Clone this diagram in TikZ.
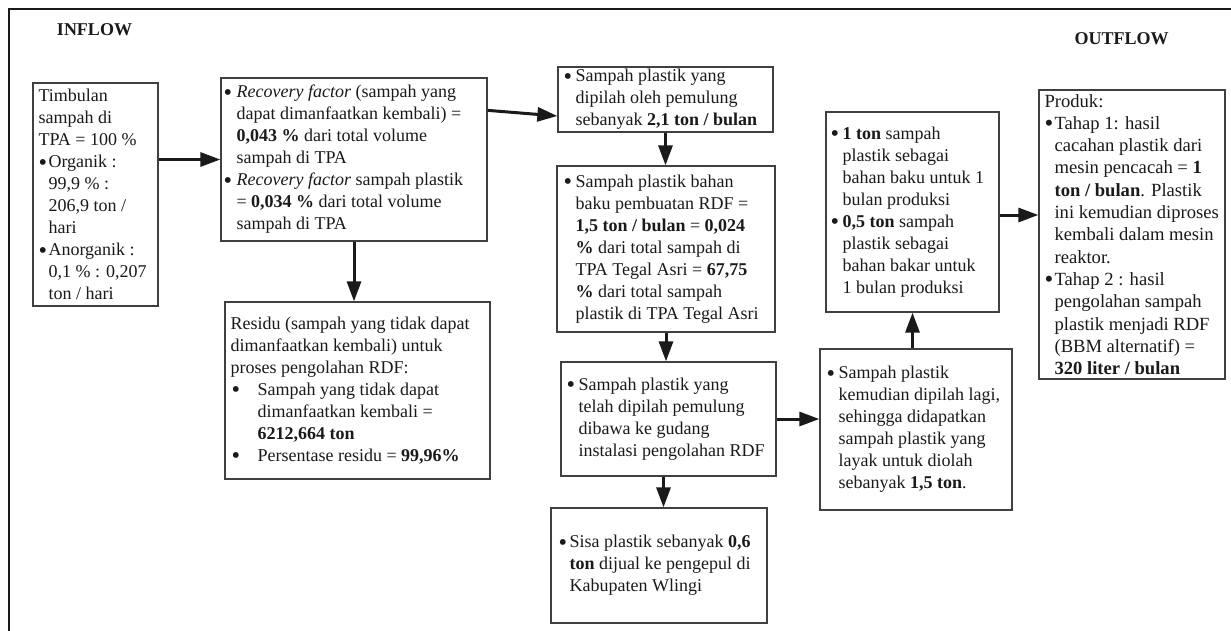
\documentclass[tikz,border=0pt]{standalone}
\usepackage{fontspec}
\setmainfont{Liberation Serif}
\usetikzlibrary{arrows.meta}
\definecolor{boxc}{HTML}{404040}
\definecolor{txt}{HTML}{1A1A1A}
\newcommand\bigdot{\raisebox{-2.4pt}{\scalebox{1.35}{\textbullet}}}
\newcommand\mybul[1][12pt]{\makebox[#1][l]{\bigdot}}
\newcommand\myind[1][12pt]{\hspace*{#1}}
\begin{document}
\begin{tikzpicture}[x=1pt,y=-1pt,
  box/.style={draw=boxc,line width=1.3pt,inner sep=0pt},
  tx/.style={inner sep=0pt,align=left,anchor=west,
              font=\fontsize{18}{22}\selectfont,text=txt},
  arr/.style={line width=3pt,draw=txt,-{Triangle[length=20pt,width=14pt]}},
  hdr/.style={font=\fontsize{18}{22}\selectfont\bfseries,text=txt,inner sep=0pt}]
\useasboundingbox (0,0) rectangle (1231,630);
\fill[white] (0,0) rectangle (1231,630);
\draw[line width=1.5pt,draw=txt] (9,640) -- (9,9) -- (1240,9);

\node[hdr] (inflow) at (94.5,30) {INFLOW};
\node[hdr] (outflow) at (1121.5,38.5) {OUTFLOW};

% boxes
\node[box,minimum width=125pt,minimum height=223pt] (A) at (95.5,194.5) {};
\node[box,minimum width=266pt,minimum height=163pt] (B) at (354,159.5) {};
\node[box,minimum width=265pt,minimum height=177pt] (C) at (357.5,390.5) {};
\node[box,minimum width=215pt,minimum height=65pt] (D) at (665.5,99.5) {};
\node[box,minimum width=218pt,minimum height=166pt] (E) at (666,249) {};
\node[box,minimum width=215pt,minimum height=114pt] (F) at (668.5,419) {};
\node[box,minimum width=216pt,minimum height=115pt] (G) at (659,565.5) {};
\node[box,minimum width=192pt,minimum height=161pt] (H) at (916,429.5) {};
\node[box,minimum width=173pt,minimum height=200pt] (I) at (912.5,212) {};
\node[box,minimum width=186pt,minimum height=289pt] (J) at (1132,234.5) {};

% texts
\node[tx] (At) at ([xshift=6pt]A.west)
{Timbulan\\ sampah di\\ TPA = 100 \%\\
 \mybul[10pt]Organik :\\ \myind[10pt]99,9 \% :\\ \myind[10pt]206,9 ton /\\ \myind[10pt]hari\\
 \mybul[10pt]Anorganik :\\ \myind[10pt]0,1 \% : 0,207\\ \myind[10pt]ton / hari};

\node[tx] (Bt) at ([xshift=3pt]B.west)
{\mybul[13pt]\textit{Recovery factor} (sampah yang\\
 \myind[13pt]dapat dimanfaatkan kembali) =\\
 \myind[13pt]\textbf{0,043 \%} dari total volume\\
 \myind[13pt]sampah di TPA\\
 \mybul[13pt]\textit{Recovery factor} sampah plastik\\
 \myind[13pt]= \textbf{0,034 \%} dari total volume\\
 \myind[13pt]sampah di TPA};

\node[tx] (Ct) at ([xshift=6pt]C.west)
{Residu (sampah yang tidak dapat\\ dimanfaatkan kembali) untuk\\ proses pengolahan RDF:\\
 \hspace*{1pt}\makebox[26pt][l]{\bigdot}Sampah yang tidak dapat\\
 \myind[27pt]dimanfaatkan kembali =\\
 \myind[27pt]\textbf{6212,664 ton}\\
 \hspace*{1pt}\makebox[26pt][l]{\bigdot}Persentase residu = \textbf{99,96\%}};

\node[tx] (Dt) at ([xshift=6pt]D.west)
{\mybul Sampah plastik yang\\ \myind dipilah oleh pemulung\\ \myind sebanyak \textbf{2,1 ton / bulan}};

\node[tx] (Et) at ([xshift=7pt]E.west)
{\mybul Sampah plastik bahan\\ \myind baku pembuatan RDF =\\
 \myind\textbf{1,5 ton / bulan} = \textbf{0,024}\\ \myind\textbf{\%} dari total sampah di\\
 \myind TPA Tegal Asri = \textbf{67,75}\\ \myind\textbf{\%} dari total sampah\\
 \myind plastik di TPA Tegal Asri};

\node[tx] (Ft) at ([xshift=6pt]F.west)
{\mybul Sampah plastik yang\\ \myind telah dipilah pemulung\\ \myind dibawa ke gudang\\
 \myind instalasi pengolahan RDF};

\node[tx] (Gt) at ([xshift=8pt]G.west)
{\mybul[11pt]Sisa plastik sebanyak \textbf{0,6}\\ \myind[11pt]\textbf{ton} dijual ke pengepul di\\
 \myind[11pt]Kabupaten Wlingi};

\node[tx] (Ht) at ([xshift=7pt]H.west)
{\mybul Sampah plastik\\ \myind kemudian dipilah lagi,\\ \myind sehingga didapatkan\\
 \myind sampah plastik yang\\ \myind layak untuk diolah\\ \myind sebanyak \textbf{1,5 ton}.};

\node[tx] (It) at ([xshift=5pt]I.west)
{\mybul\textbf{1 ton} sampah\\ \myind plastik sebagai\\ \myind bahan baku untuk 1\\ \myind bulan produksi\\
 \mybul\textbf{0,5 ton} sampah\\ \myind plastik sebagai\\ \myind bahan bakar untuk\\ \myind 1 bulan produksi};

\node[tx,font=\fontsize{18.6}{22.3}\selectfont] (Jt) at ([xshift=6pt]J.west)
{Produk:\\ \mybul[10pt]Tahap 1: hasil\\ \myind[10pt]cacahan plastik dari\\
 \myind[10pt]mesin pencacah = \textbf{1}\\ \myind[10pt]\textbf{ton / bulan}. Plastik\\
 \myind[10pt]ini kemudian diproses\\ \myind[10pt]kembali dalam mesin\\ \myind[10pt]reaktor.\\
 \mybul[10pt]Tahap 2 : hasil\\ \myind[10pt]pengolahan sampah\\ \myind[10pt]plastik menjadi RDF\\
 \myind[10pt](BBM alternatif) =\\ \myind[10pt]\textbf{320 liter / bulan}};

% connectors
\draw[arr] (A.east |- B.west) -- (B.west);
\draw[arr] (B.south) -- (B.south |- C.north);
\draw[arr] ([yshift=-33pt]B.north east) -- ([yshift=-16.5pt]D.west);
\draw[arr] (D.south) -- (D.south |- E.north);
\draw[arr] (E.south) -- (E.south |- F.north);
\draw[arr] ([xshift=-5pt]F.south) -- ([xshift=-5pt]F.south |- G.north);
\draw[arr] (F.east) -- (F.east -| H.west);
\draw[arr] (H.north -| I.south) -- (I.south);
\draw[arr] ([yshift=-3pt]I.east) -- ([yshift=-3pt]I.east -| J.west);
\end{tikzpicture}
\end{document}
